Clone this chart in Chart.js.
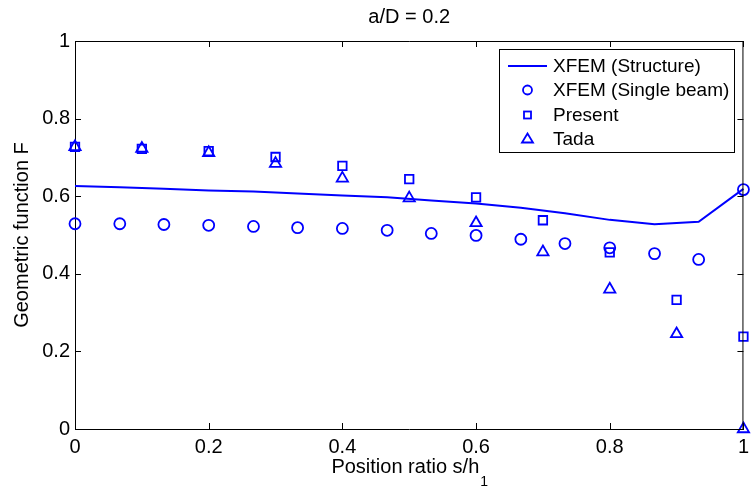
<!DOCTYPE html>
<html>
<head>
<meta charset="utf-8">
<script src="https://cdn.jsdelivr.net/npm/chart.js@4.4.1/dist/chart.umd.min.js"></script>
<style>
  html, body { margin: 0; padding: 0; background: #fff; }
  #c { display: block; }
</style>
</head>
<body>
<canvas id="c" width="755" height="501"></canvas>
<script>
// XFEM (Structure) - solid line
const structX = [0, 0.067, 0.133, 0.2, 0.267, 0.333, 0.4, 0.467, 0.533, 0.6, 0.667, 0.733, 0.8, 0.867, 0.933, 1];
const structY = [0.626, 0.623, 0.619, 0.615, 0.612, 0.607, 0.602, 0.597, 0.589, 0.581, 0.570, 0.556, 0.539, 0.528, 0.534, 0.619];

// XFEM (Single beam) - circles
const beamX = [0, 0.067, 0.133, 0.2, 0.267, 0.333, 0.4, 0.467, 0.533, 0.6, 0.667, 0.733, 0.8, 0.867, 0.933, 1];
const beamY = [0.529, 0.529, 0.527, 0.525, 0.522, 0.519, 0.517, 0.512, 0.504, 0.499, 0.489, 0.478, 0.467, 0.452, 0.437, 0.617];

// Present - squares, Tada - triangles
const refX = [0, 0.1, 0.2, 0.3, 0.4, 0.5, 0.6, 0.7, 0.8, 0.9, 1];
const presentY = [0.727, 0.722, 0.716, 0.701, 0.678, 0.644, 0.597, 0.538, 0.455, 0.333, 0.238];
const tadaY = [0.727, 0.723, 0.712, 0.684, 0.646, 0.595, 0.531, 0.456, 0.360, 0.245, 0.0];

const xTicks = [0, 0.2, 0.4, 0.6, 0.8, 1];
const yTicks = [0, 0.2, 0.4, 0.6, 0.8, 1];
const legendLabels = ['XFEM (Structure)', 'XFEM (Single beam)', 'Present', 'Tada'];

const BLUE = '#0000ff';
const FONT = '"Liberation Sans", Arial, Helvetica, sans-serif';

const pts = (xs, ys) => xs.map((x, i) => ({ x: x, y: ys[i] }));

// frame, inward ticks, titles and legend in MATLAB style
const decor = {
  id: 'decor',
  afterDraw(chart) {
    const ctx = chart.ctx;
    const { left, right, top, bottom } = chart.chartArea;
    const xs = chart.scales.x, ys = chart.scales.y;
    ctx.save();
    ctx.strokeStyle = '#000';
    ctx.lineWidth = 1;
    ctx.beginPath();
    ctx.moveTo(left, top + 0.5); ctx.lineTo(right, top + 0.5);
    ctx.moveTo(right - 0.5, top); ctx.lineTo(right - 0.5, bottom);
    xTicks.forEach(v => {
      const px = Math.round(xs.getPixelForValue(v)) + 0.5;
      ctx.moveTo(px, bottom); ctx.lineTo(px, bottom - 6);
      ctx.moveTo(px, top); ctx.lineTo(px, top + 6);
    });
    yTicks.forEach(v => {
      const py = Math.round(ys.getPixelForValue(v)) + 0.5;
      ctx.moveTo(left, py); ctx.lineTo(left + 6, py);
      ctx.moveTo(right, py); ctx.lineTo(right - 6, py);
    });
    ctx.stroke();

    ctx.fillStyle = '#000';
    ctx.textBaseline = 'middle';
    ctx.textAlign = 'center';
    ctx.font = '20px ' + FONT;
    ctx.fillText('a/D = 0.2', (left + right) / 2, 17);

    // x axis title with subscript
    const main = 'Position ratio s/h';
    ctx.font = '20px ' + FONT;
    const w1 = ctx.measureText(main).width;
    ctx.font = '14px ' + FONT;
    const w2 = ctx.measureText('1').width;
    const x0 = (left + right) / 2 - (w1 + w2) / 2;
    ctx.textAlign = 'left';
    ctx.font = '20px ' + FONT;
    ctx.fillText(main, x0, 467);
    ctx.font = '14px ' + FONT;
    ctx.fillText('1', x0 + w1 + 1, 482);

    // y axis title
    ctx.save();
    ctx.translate(22, (top + bottom) / 2);
    ctx.rotate(-Math.PI / 2);
    ctx.textAlign = 'center';
    ctx.font = '20px ' + FONT;
    ctx.fillText('Geometric function F', 0, 0);
    ctx.restore();

    // legend
    const bx = 499.5, by = 49.5, bw = 235, bh = 103;
    ctx.fillStyle = '#fff';
    ctx.fillRect(bx, by, bw, bh);
    ctx.strokeStyle = '#000';
    ctx.strokeRect(bx, by, bw, bh);
    const rows = [66, 90, 115, 139];
    const mx = 527.5;
    ctx.strokeStyle = BLUE;
    ctx.lineWidth = 2;
    ctx.beginPath();
    ctx.moveTo(508, rows[0]); ctx.lineTo(547, rows[0]);
    ctx.stroke();
    ctx.lineWidth = 1.8;
    ctx.beginPath();
    ctx.arc(mx, rows[1], 4.5, 0, Math.PI * 2);
    ctx.stroke();
    ctx.strokeRect(mx - 3.5, rows[2] - 3.5, 7, 7);
    ctx.beginPath();
    ctx.moveTo(mx, rows[3] - 5.5);
    ctx.lineTo(mx + 5.5, rows[3] + 3.5);
    ctx.lineTo(mx - 5.5, rows[3] + 3.5);
    ctx.closePath();
    ctx.stroke();
    ctx.fillStyle = '#000';
    ctx.textAlign = 'left';
    ctx.font = '19px ' + FONT;
    legendLabels.forEach((t, i) => ctx.fillText(t, 553, rows[i] + 1));
    ctx.restore();
  }
};

const axisCommon = {
  type: 'linear',
  min: 0,
  max: 1,
  grid: { display: false, drawTicks: false },
  border: { display: true, color: '#000', width: 1 },
  ticks: {
    color: '#000',
    font: { size: 20, family: FONT },
    callback: v => String(v)
  }
};

new Chart(document.getElementById('c'), {
  type: 'scatter',
  data: {
    datasets: [
      {
        label: legendLabels[0],
        data: pts(structX, structY),
        showLine: true,
        borderColor: BLUE,
        borderWidth: 2,
        pointRadius: 0,
        tension: 0,
        clip: false
      },
      {
        label: legendLabels[1],
        data: pts(beamX, beamY),
        pointStyle: 'circle',
        pointRadius: 5.5,
        borderColor: BLUE,
        backgroundColor: 'rgba(0,0,0,0)',
        pointBorderWidth: 1.8,
        clip: false
      },
      {
        label: legendLabels[2],
        data: pts(refX, presentY),
        pointStyle: 'rect',
        pointRadius: 6,
        borderColor: BLUE,
        backgroundColor: 'rgba(0,0,0,0)',
        pointBorderWidth: 1.8,
        clip: false
      },
      {
        label: legendLabels[3],
        data: pts(refX, tadaY),
        pointStyle: 'triangle',
        pointRadius: 6.5,
        borderColor: BLUE,
        backgroundColor: 'rgba(0,0,0,0)',
        pointBorderWidth: 1.8,
        clip: false
      }
    ]
  },
  options: {
    responsive: false,
    animation: false,
    devicePixelRatio: 1,
    layout: { padding: { left: 0, right: 10, top: 41, bottom: 0 } },
    plugins: {
      legend: { display: false },
      tooltip: { enabled: false },
      title: { display: false }
    },
    scales: {
      x: {
        ...axisCommon,
        position: 'bottom',
        afterBuildTicks: s => { s.ticks = xTicks.map(v => ({ value: v })); },
        afterFit: s => { s.height = 72; },
        ticks: { ...axisCommon.ticks, padding: 6, maxRotation: 0 }
      },
      y: {
        ...axisCommon,
        position: 'left',
        afterBuildTicks: s => { s.ticks = yTicks.map(v => ({ value: v })); },
        afterFit: s => { s.width = 75; },
        ticks: { ...axisCommon.ticks, padding: 5 }
      }
    }
  },
  plugins: [decor]
});
</script>
</body>
</html>
